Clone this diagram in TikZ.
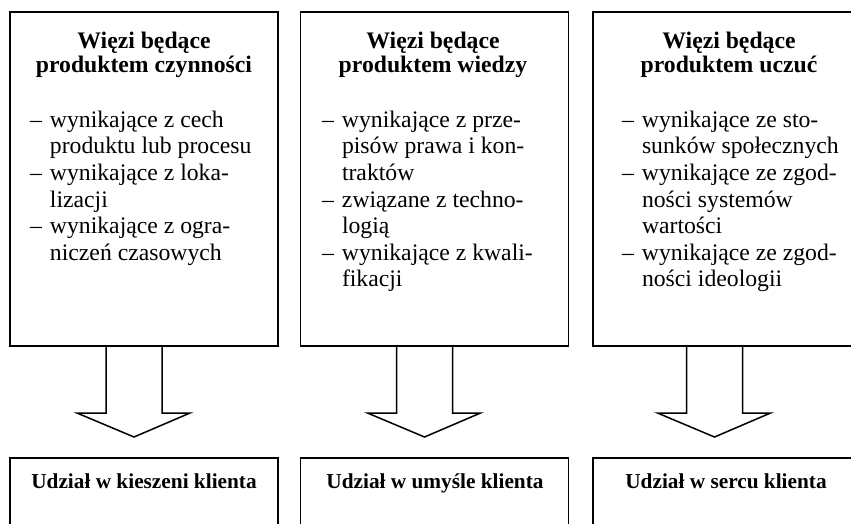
\documentclass[tikz,border=0pt]{standalone}
\usepackage{fontspec}
\setmainfont{Liberation Serif}
\usetikzlibrary{calc}
\newcommand{\myitem}{\makebox[20pt][l]{–}}
\newcommand{\mycont}{\hspace*{20pt}}

\begin{document}
\begin{tikzpicture}[x=1pt, y=-1pt, line join=miter,
    every node/.style={inner sep=0pt, outer sep=0pt},
    topbox/.style={draw, line width=1.8pt, minimum width=268pt, minimum height=334pt},
    bottombox/.style={draw, line width=1.8pt, minimum width=268pt, minimum height=120pt},
    heading/.style={align=center, anchor=north, font=\fontsize{23.7}{24}\selectfont\bfseries},
    items/.style={align=left, anchor=north west, font=\fontsize{23.7}{26.6}\selectfont},
    share/.style={anchor=base, font=\fontsize{21.3}{24}\selectfont\bfseries},
    blockarrow/.style={draw, line width=1.5pt}]
    \useasboundingbox (0,0) rectangle (851,523);
    \clip (0,0) rectangle (851,523);

    % First column
    \node[topbox] (wiezi1) at (144,179) {};
    \node[heading] (tytul1) at (144,31.8) {Więzi będące\\produktem czynności};
    \node[items] (lista1) at (30,110.8) {\myitem wynikające z cech\\\mycont produktu lub procesu\\\myitem wynikające z loka-\\\mycont lizacji\\\myitem wynikające z ogra-\\\mycont niczeń czasowych};
    \node[bottombox] (udzial1) at (144,518) {};
    \node[share] (napis1) at (144,488) {Udział w kieszeni klienta};
    \draw[blockarrow] ($(wiezi1.south)+(-38,0)$) -- ++(0,67) -- ++(-29,0)
        -- ($(udzial1.north)+(-10,-21)$) -- ++(56,-24) -- ++(-28,0) -- ($(wiezi1.south)+(18,0)$);

    % Second column
    \node[topbox] (wiezi2) at (434.5,179) {};
    \node[heading] (tytul2) at (433,31.8) {Więzi będące\\produktem wiedzy};
    \node[items] (lista2) at (322,110.8) {\myitem wynikające z prze-\\\mycont pisów prawa i kon-\\\mycont traktów\\\myitem związane z techno-\\\mycont logią\\\myitem wynikające z kwali-\\\mycont fikacji};
    \node[bottombox] (udzial2) at (434.5,518) {};
    \node[share] (napis2) at (435,488) {Udział w umyśle klienta};
    \draw[blockarrow] ($(wiezi2.south)+(-38,0)$) -- ++(0,67) -- ++(-29,0)
        -- ($(udzial2.north)+(-10,-21)$) -- ++(56,-24) -- ++(-28,0) -- ($(wiezi2.south)+(18,0)$);

    % Third column
    \node[topbox] (wiezi3) at (727,179) {};
    \node[heading] (tytul3) at (729,31.8) {Więzi będące\\produktem uczuć};
    \node[items] (lista3) at (622,110.8) {\myitem wynikające ze sto-\\\mycont sunków społecznych\\\myitem wynikające ze zgod-\\\mycont ności systemów\\\mycont wartości\\\myitem wynikające ze zgod-\\\mycont ności ideologii};
    \node[bottombox] (udzial3) at (727,518) {};
    \node[share] (napis3) at (726,488) {Udział w sercu klienta};
    \draw[blockarrow] ($(wiezi3.south)+(-40.5,0)$) -- ++(0,67) -- ++(-29,0)
        -- ($(udzial3.north)+(-12.5,-21)$) -- ++(56,-24) -- ++(-28,0) -- ($(wiezi3.south)+(15.5,0)$);
\end{tikzpicture}
\end{document}
